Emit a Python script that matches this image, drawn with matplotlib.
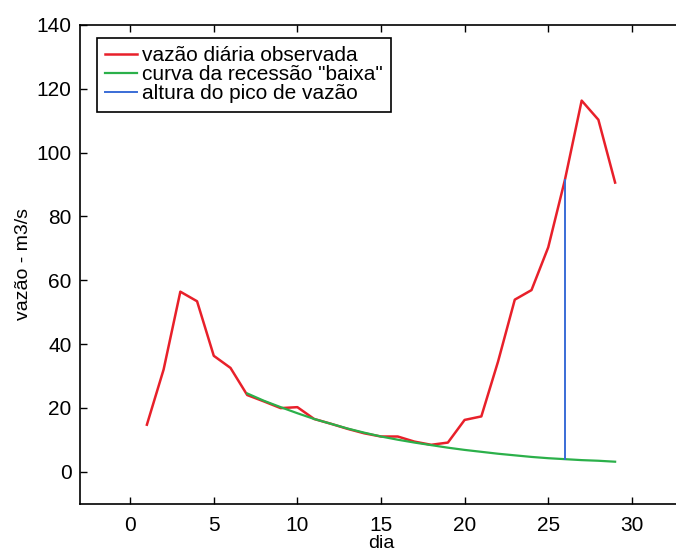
import numpy as np
import matplotlib
matplotlib.use("Agg")
import matplotlib.pyplot as plt

plt.rcParams['font.family'] = ['Liberation Sans', 'DejaVu Sans']

# vazao diaria observada
dias = [1, 2, 3, 4, 5, 6, 7, 8, 9, 10, 11, 12, 13, 14, 15, 16, 17, 18, 19, 20,
        21, 22, 23, 24, 25, 26, 27, 28, 29]
vazao = [14.7, 32, 56.4, 53.4, 36.3, 32.5, 24.0, 22.0, 19.9, 20.2, 16.5, 15.0,
         13.4, 12.0, 11.0, 11.0, 9.4, 8.4, 9.1, 16.2, 17.3, 34.5, 53.9, 56.9,
         70.3, 91.5, 116.3, 110.3, 90.6]

# curva da recessao "baixa"
dias_rec = [7, 8, 9, 10, 11, 12, 13, 14, 15, 16, 17, 18, 19, 20, 21, 22, 23,
            24, 25, 26, 27, 28, 29]
vazao_rec = [24.5, 22.2, 20.2, 18.3, 16.5, 15.0, 13.5, 12.2, 11.0, 10.0, 9.1,
             8.3, 7.5, 6.8, 6.2, 5.6, 5.1, 4.6, 4.2, 3.9, 3.6, 3.4, 3.1]

# altura do pico
dia_pico = [26, 26]
vazao_pico = [3.9, 91.5]

fig = plt.figure(figsize=(6.76, 5.56), dpi=100)
ax = fig.add_axes([80/676, 52.5/556, 602/676, 478.5/556])

ax.plot(dias, vazao, color='#e8202a', lw=1.8, label='vazão diária observada')
ax.plot(dias_rec, vazao_rec, color='#2bb04a', lw=1.6, label='curva da recessão "baixa"')
ax.plot(dia_pico, vazao_pico, color='#3a6cd6', lw=1.4, label='altura do pico de vazão')

ax.set_xlim(-3, 33)
ax.set_ylim(-10, 140)
ax.set_xticks(np.arange(0, 31, 5))
ax.set_yticks(np.arange(0, 141, 20))
ax.tick_params(direction='in', length=5, width=1, labelsize=15, top=True, pad=6)
ax.tick_params(axis='x', pad=9)
for s in ax.spines.values():
    s.set_linewidth(1.2)
ax.spines['right'].set_visible(False)

ax.set_xlabel('dia', fontsize=14, labelpad=0)
ax.set_ylabel('vazão - m3/s', fontsize=14, labelpad=3)

leg = ax.legend(loc='upper left', bbox_to_anchor=(97/676, 1 - 38/556),
                bbox_transform=fig.transFigure, borderaxespad=0,
                fontsize=15, handlelength=1.5, handletextpad=0.25,
                labelspacing=0.0, borderpad=0.4, fancybox=False)
leg.get_frame().set_edgecolor('black')
leg.get_frame().set_linewidth(1.2)
leg.get_frame().set_alpha(1)

fig.savefig('out.png', dpi=100)
